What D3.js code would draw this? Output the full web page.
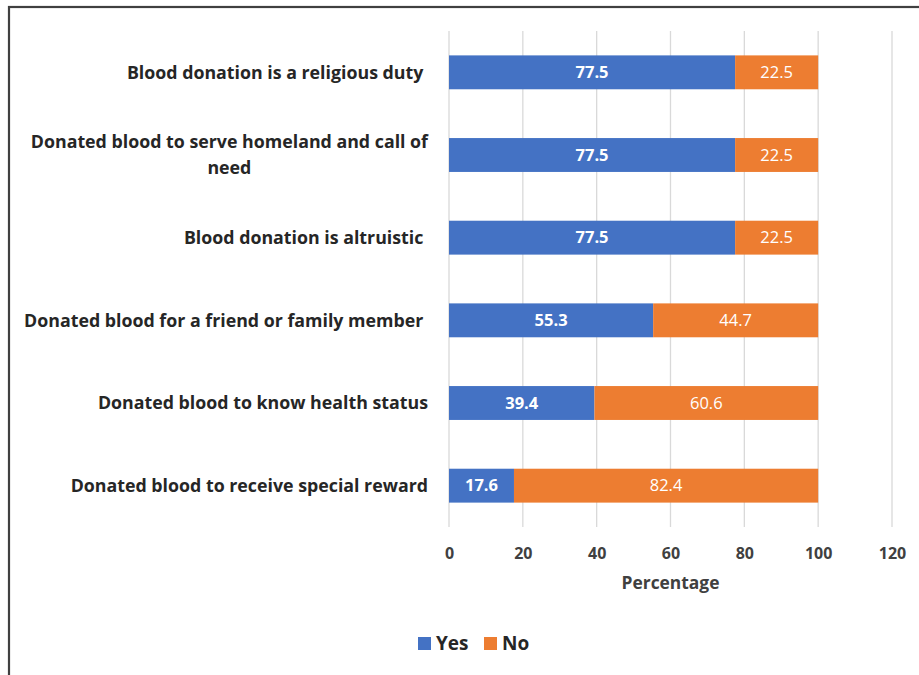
<!DOCTYPE html>
<html>
<head>
<meta charset="utf-8">
<script src="https://cdn.jsdelivr.net/npm/d3@7"></script>
<style>
  body { margin: 0; background: #fff; }
  svg text { font-family: "Open Sans", sans-serif; white-space: pre; }
</style>
</head>
<body>
<svg id="chart"></svg>
<script>
// chart values, bottom row last
const categories = [
  "Blood donation is a religious duty ",
  "Donated blood to serve homeland and call of\nneed",
  "Blood donation is altruistic ",
  "Donated blood for a friend or family member ",
  "Donated blood to know health status",
  "Donated blood to receive special reward"
];
const yesValues = [77.5, 77.5, 77.5, 55.3, 39.4, 17.6];
const noValues = [22.5, 22.5, 22.5, 44.7, 60.6, 82.4];
const seriesNames = ["Yes", "No"];
const xTicks = [0, 20, 40, 60, 80, 100, 120];

const width = 919, height = 675;
const margins = { top: 31, bottom: 148, left: 449, right: 27 };
const colors = ["#4472C4", "#ED7D31"];

const svg = d3.select("#chart").attr("width", width).attr("height", height);

// outer frame (runs off the right and bottom edge)
svg.append("rect")
  .attr("x", 9).attr("y", 7)
  .attr("width", 930).attr("height", 700)
  .attr("fill", "none").attr("stroke", "#404040").attr("stroke-width", 2.2);

const x = d3.scaleLinear().domain([0, 120]).range([margins.left, width - margins.right]);
const y = d3.scaleBand().domain(categories)
  .range([margins.top, height - margins.bottom])
  .paddingInner(0.59).paddingOuter(0.295);

// gridlines
svg.append("g").selectAll("line").data(xTicks).join("line")
  .attr("x1", d => x(d)).attr("x2", d => x(d))
  .attr("y1", margins.top).attr("y2", height - margins.bottom)
  .attr("stroke", "#d9d9d9").attr("stroke-width", 1.3);

// x tick labels
const xAxis = d3.axisBottom(x).tickValues(xTicks).tickSize(0).tickPadding(21);
const gx = svg.append("g")
  .attr("transform", `translate(0,${height - margins.bottom})`)
  .call(xAxis);
gx.select(".domain").remove();
gx.selectAll("text")
  .attr("font-size", 16).attr("font-weight", "bold").attr("fill", "#404040")
  .style("font-family", "'Open Sans', sans-serif");

svg.append("text")
  .attr("x", x(60)).attr("y", 589)
  .attr("text-anchor", "middle")
  .attr("font-size", 17.4).attr("font-weight", "bold").attr("fill", "#404040")
  .text("Percentage");

// category labels
const labelRight = 428;
categories.forEach(c => {
  const lines = c.split("\n");
  const g = svg.append("text")
    .attr("font-size", 17.8).attr("font-weight", "bold").attr("fill", "#262626");
  const cy = y(c) + y.bandwidth() / 2;
  if (lines.length === 1) {
    g.attr("x", labelRight).attr("y", cy).attr("dy", "0.35em")
      .attr("text-anchor", "end").text(c);
  } else {
    // wrapped label: lines centred on the widest one
    const tmp = g.append("tspan").text(lines[0]);
    const w = tmp.node().getComputedTextLength();
    tmp.remove();
    const cx = labelRight - w / 2;
    g.attr("text-anchor", "middle");
    lines.forEach((ln, i) => {
      g.append("tspan").attr("x", cx)
        .attr("y", cy + (i - (lines.length - 1) / 2) * 26)
        .attr("dy", "0.35em").text(ln);
    });
  }
});

// stacked bars
const rows = categories.map((c, i) => ({ cat: c, vals: [yesValues[i], noValues[i]] }));
rows.forEach(r => {
  let start = 0;
  r.vals.forEach((v, j) => {
    svg.append("rect")
      .attr("x", x(start)).attr("y", y(r.cat))
      .attr("width", x(start + v) - x(start)).attr("height", y.bandwidth())
      .attr("fill", colors[j]);
    svg.append("text")
      .attr("x", (x(start) + x(start + v)) / 2)
      .attr("y", y(r.cat) + y.bandwidth() / 2).attr("dy", "0.35em")
      .attr("text-anchor", "middle")
      .attr("font-size", 16.5).attr("font-weight", j === 0 ? "bold" : "normal")
      .attr("fill", "#fff")
      .text(v.toFixed(1));
    start += v;
  });
});

// legend
const legend = svg.append("g").attr("transform", "translate(418,643)");
const legendX = [0, 66];
seriesNames.forEach((s, i) => {
  legend.append("rect").attr("x", legendX[i]).attr("y", -6)
    .attr("width", 13).attr("height", 13).attr("fill", colors[i]);
  legend.append("text").attr("x", legendX[i] + 18).attr("y", 0).attr("dy", "0.35em")
    .attr("font-size", 19).attr("font-weight", "bold").attr("fill", "#262626")
    .text(s);
});
</script>
</body>
</html>
